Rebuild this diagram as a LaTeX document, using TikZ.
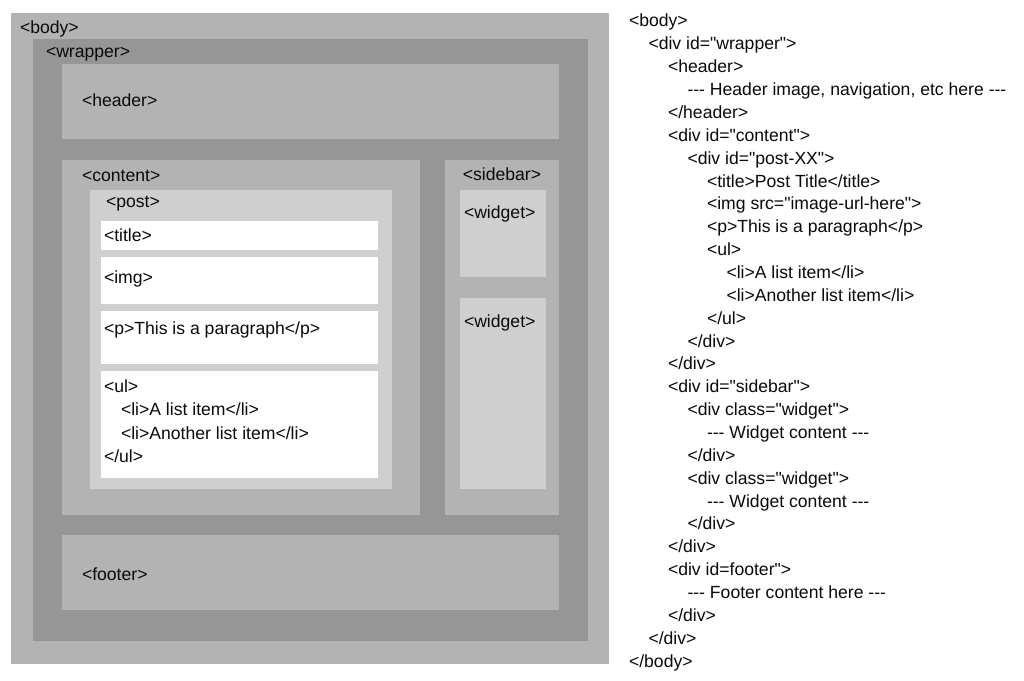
\documentclass[tikz,border=0pt]{standalone}
\usepackage{fontspec}
\newfontfamily\htmlfont{Liberation Sans}
\definecolor{bodygray}{HTML}{B3B3B3}
\definecolor{wrapgray}{HTML}{969696}
\definecolor{postgray}{HTML}{CFCFCF}
\definecolor{txt}{HTML}{0A0A0A}
\tikzset{
  region/.style={draw=none, inner sep=0pt, outer sep=0pt, anchor=north west},
  lbl/.style={inner sep=0pt, outer sep=0pt, anchor=base west, text=txt, font=\htmlfont\fontsize{17.6}{20}\selectfont},
}
\newcommand{\boxat}[6]{\node[region, fill=#2, minimum width=#5pt-#3pt, minimum height=#6pt-#4pt] (#1) at (#3,#4) {};}
\begin{document}
\begin{tikzpicture}[x=1pt, y=-1pt]
\useasboundingbox[fill=white] (0,0) rectangle (1024,680);
% layout diagram
\boxat{body}{bodygray}{11}{13}{609}{664}
\boxat{wrapper}{wrapgray}{33}{39}{588}{641}
\boxat{header}{bodygray}{62}{64}{559}{139}
\boxat{content}{bodygray}{62}{160}{420}{515}
\boxat{sidebar}{bodygray}{445}{160}{559}{515}
\boxat{footer}{bodygray}{62}{535}{559}{610}
\boxat{post}{postgray}{90}{190}{392}{489}
\boxat{title}{white}{101}{221}{378}{250}
\boxat{img}{white}{101}{257}{378}{304}
\boxat{para}{white}{101}{311}{378}{364}
\boxat{ul}{white}{101}{371}{378}{478}
\boxat{widgetA}{postgray}{460}{190}{546}{277}
\boxat{widgetB}{postgray}{460}{298}{546}{489}
\node[lbl] (lbody) at (20,33) {<body>};
\node[lbl] (lwrapper) at (46,57) {<wrapper>};
\node[lbl] (lheader) at (82,106) {<header>};
\node[lbl] (lcontent) at (82,181) {<content>};
\node[lbl] (lpost) at (106,207) {<post>};
\node[lbl] (ltitle) at (104,241) {<title>};
\node[lbl] (limg) at (104,283) {<img>};
\node[lbl] (lpara) at (104,334) {<p>This is a paragraph</p>};
\node[lbl] (lul1) at (104,392) {<ul>};
\node[lbl] (lul2) at (121,415.5) {<li>A list item</li>};
\node[lbl] (lul3) at (121,439) {<li>Another list item</li>};
\node[lbl] (lul4) at (104,462.5) {</ul>};
\node[lbl, anchor=base] (lsidebar) at (502,180) {<sidebar>};
\node[lbl] (lwidgetA) at (464,218) {<widget>};
\node[lbl] (lwidgetB) at (464,327) {<widget>};
\node[lbl] (lfooter) at (82,580) {<footer>};
% code listing
\def\cx#1{629+19.5*#1}
\def\cy#1{27+22.86*(#1-1)}
\node[lbl] (c1) at ({\cx{0}},{\cy{1}}) {<body>};
\node[lbl] (c2) at ({\cx{1}},{\cy{2}}) {<div id="wrapper">};
\node[lbl] (c3) at ({\cx{2}},{\cy{3}}) {<header>};
\node[lbl] (c4) at ({\cx{3}},{\cy{4}}) {-{}-{}- Header image, navigation, etc here -{}-{}-};
\node[lbl] (c5) at ({\cx{2}},{\cy{5}}) {</header>};
\node[lbl] (c6) at ({\cx{2}},{\cy{6}}) {<div id="content">};
\node[lbl] (c7) at ({\cx{3}},{\cy{7}}) {<div id="post-XX">};
\node[lbl] (c8) at ({\cx{4}},{\cy{8}}) {<title>Post Title</title>};
\node[lbl] (c9) at ({\cx{4}},{\cy{9}}) {<img src="image-url-here">};
\node[lbl] (c10) at ({\cx{4}},{\cy{10}}) {<p>This is a paragraph</p>};
\node[lbl] (c11) at ({\cx{4}},{\cy{11}}) {<ul>};
\node[lbl] (c12) at ({\cx{5}},{\cy{12}}) {<li>A list item</li>};
\node[lbl] (c13) at ({\cx{5}},{\cy{13}}) {<li>Another list item</li>};
\node[lbl] (c14) at ({\cx{4}},{\cy{14}}) {</ul>};
\node[lbl] (c15) at ({\cx{3}},{\cy{15}}) {</div>};
\node[lbl] (c16) at ({\cx{2}},{\cy{16}}) {</div>};
\node[lbl] (c17) at ({\cx{2}},{\cy{17}}) {<div id="sidebar">};
\node[lbl] (c18) at ({\cx{3}},{\cy{18}}) {<div class="widget">};
\node[lbl] (c19) at ({\cx{4}},{\cy{19}}) {-{}-{}- Widget content -{}-{}-};
\node[lbl] (c20) at ({\cx{3}},{\cy{20}}) {</div>};
\node[lbl] (c21) at ({\cx{3}},{\cy{21}}) {<div class="widget">};
\node[lbl] (c22) at ({\cx{4}},{\cy{22}}) {-{}-{}- Widget content -{}-{}-};
\node[lbl] (c23) at ({\cx{3}},{\cy{23}}) {</div>};
\node[lbl] (c24) at ({\cx{2}},{\cy{24}}) {</div>};
\node[lbl] (c25) at ({\cx{2}},{\cy{25}}) {<div id=footer">};
\node[lbl] (c26) at ({\cx{3}},{\cy{26}}) {-{}-{}- Footer content here -{}-{}-};
\node[lbl] (c27) at ({\cx{2}},{\cy{27}}) {</div>};
\node[lbl] (c28) at ({\cx{1}},{\cy{28}}) {</div>};
\node[lbl] (c29) at ({\cx{0}},{\cy{29}}) {</body>};
\end{tikzpicture}
\end{document}
